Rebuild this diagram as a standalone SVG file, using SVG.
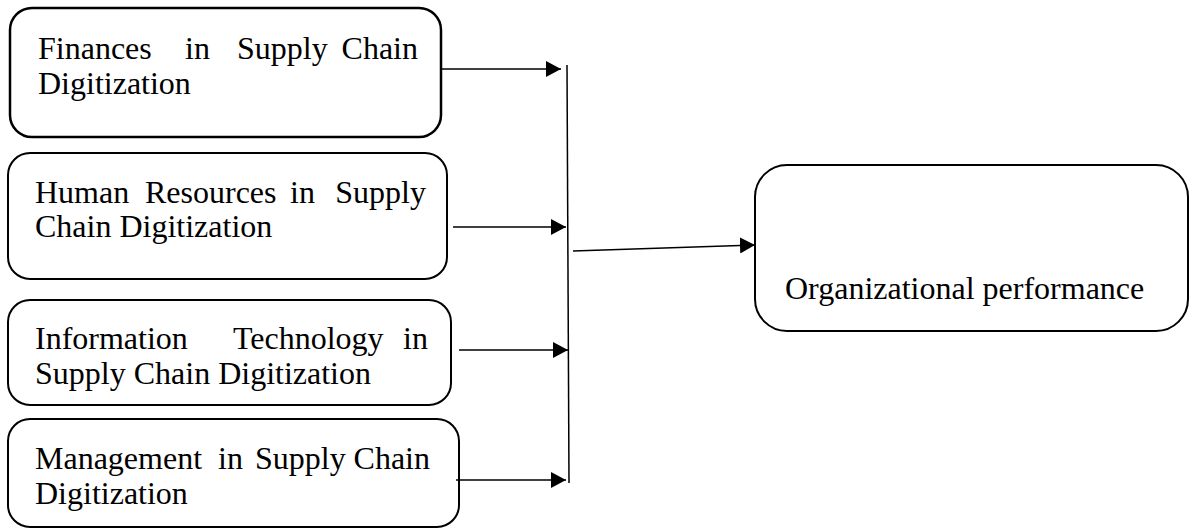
<svg xmlns="http://www.w3.org/2000/svg" width="1190" height="529" viewBox="0 0 1190 529">
  <style>
    .box { fill: #fff; stroke: #000; stroke-width: 2; }
    .lbl { font-family: "Liberation Serif", "Times New Roman", serif; font-size: 32px; fill: #000; }
    .conn { stroke: #000; stroke-width: 1.5; fill: none; }
  </style>
  <defs>
    <marker id="ah" markerWidth="16" markerHeight="16" refX="15" refY="8" orient="auto" markerUnits="userSpaceOnUse">
      <path d="M0,0 L15,8 L0,16 Z" fill="#000"/>
    </marker>
  </defs>
  <rect width="1190" height="529" fill="#fff"/>

  <g id="n1">
    <rect class="box" x="10" y="8" width="431" height="129" rx="22" style="stroke-width:2.5"/>
    <text class="lbl" y="59"><tspan x="38">Finances</tspan><tspan x="185">in</tspan><tspan x="237">Supply</tspan><tspan x="418" text-anchor="end">Chain</tspan></text>
    <text class="lbl" x="38" y="94">Digitization</text>
  </g>

  <g id="n2">
    <rect class="box" x="8" y="153" width="439" height="126" rx="22"/>
    <text class="lbl" y="203"><tspan x="35">Human</tspan><tspan x="145">Resources</tspan><tspan x="290">in</tspan><tspan x="426" text-anchor="end">Supply</tspan></text>
    <text class="lbl" x="35" y="237">Chain Digitization</text>
  </g>

  <g id="n3">
    <rect class="box" x="8" y="300" width="443" height="105" rx="22"/>
    <text class="lbl" y="349"><tspan x="35">Information</tspan><tspan x="233">Technology</tspan><tspan x="428" text-anchor="end">in</tspan></text>
    <text class="lbl" x="35" y="384">Supply Chain Digitization</text>
  </g>

  <g id="n4">
    <rect class="box" x="8" y="419" width="451" height="108" rx="22"/>
    <text class="lbl" y="469"><tspan x="35">Management</tspan><tspan x="218">in</tspan><tspan x="255">Supply</tspan><tspan x="430" text-anchor="end">Chain</tspan></text>
    <text class="lbl" x="35" y="504">Digitization</text>
  </g>

  <g id="n5">
    <rect class="box" x="755" y="165" width="433" height="166" rx="32"/>
    <text class="lbl" x="785" y="299">Organizational performance</text>
  </g>

  <g id="connectors">
    <line class="conn" x1="440" y1="69" x2="561" y2="69" marker-end="url(#ah)"/>
    <line class="conn" x1="453" y1="227" x2="566" y2="227" marker-end="url(#ah)"/>
    <line class="conn" x1="459" y1="350" x2="568" y2="350" marker-end="url(#ah)"/>
    <line class="conn" x1="456" y1="480" x2="566" y2="480" marker-end="url(#ah)"/>
    <line class="conn" x1="567" y1="65" x2="569" y2="483"/>
    <line class="conn" x1="573" y1="251" x2="755" y2="245" marker-end="url(#ah)"/>
  </g>
</svg>
